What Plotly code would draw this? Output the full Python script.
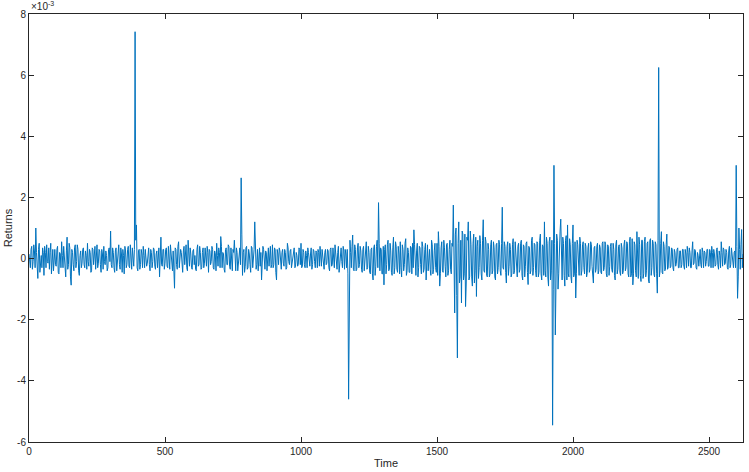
import plotly.graph_objects as go

# Returns in units of 1e-3.
# rowNN: values at t = 5*i ; midNN: values at t = 5*i + 2.5
row00 = [0.15, -0.3, 0.4, -0.1, 0.25, 1.0, -0.2, 0.3, -0.45, 0.1, 0.35, -0.55, 0.2, 0.45, -0.15, -0.35, 0.5, 0.05, -0.4, 0.3]
row01 = [-0.25, 0.4, -0.5, 0.15, 0.55, -0.3, 0.1, -0.6, 0.7, -0.2, 0.35, -0.87, 0.2, -0.4, 0.45, -0.1, 0.3, -0.55, 0.25, -0.15]
row02 = [0.35, -0.3, 0.1, 0.5, -0.25, 0.2, -0.4, 0.3, 0.05, -0.35, 0.45, -0.15, 0.25, -0.45, 0.15, 0.4, -0.2, 0.1, -0.3, 0.35]
row03 = [0.9, -0.3, 0.2, -0.45, 0.35, -0.1, 0.45, -0.35, 0.15, 0.3, -0.5, 0.25, -0.2, 0.4, -0.3, 0.1, 0.35, -0.25, 7.42, 1.1]
row04 = [-0.4, 0.3, -0.2, 0.15, 0.4, -0.3, 0.1, -0.15, 0.35, -0.4, 0.2, -0.1, 0.3, -0.35, 0.25, 0.05, -0.6, 0.7, -0.25, 0.3]
row05 = [-0.15, 0.35, -0.3, 0.1, 0.45, -0.2, 0.25, -0.97, 0.3, -0.35, 0.55, -0.1, 0.2, -0.45, 0.4, 0.05, -0.3, 0.6, -0.25, 0.15]
row06 = [-0.35, 0.3, 0.1, -0.4, 0.45, -0.2, 0.2, -0.3, 0.35, -0.15, 0.1, 0.4, -0.45, 0.25, -0.1, 0.3, -0.35, 0.15, 0.5, -0.25]
row07 = [0.2, 0.72, -0.3, 0.15, -0.45, 0.35, -0.2, 0.4, -0.35, 0.1, 0.3, 0.6, -0.4, 0.2, -0.15, 0.35, 2.64, -0.55, 0.3, -0.25]
row08 = [0.4, -0.3, 0.15, -0.45, 0.35, -0.1, 1.2, -0.35, 0.3, 0.1, -0.25, -0.7, 0.4, -0.2, 0.25, -0.4, 0.35, 0.05, -0.3, 0.45]
row09 = [-0.2, 0.3, -0.7, 0.15, 0.35, -0.3, 0.2, -0.15, 0.3, -0.35, 0.5, -0.1, 0.25, -0.3, 0.15, 0.35, -0.25, 0.1, -0.2, 0.3]
row10 = [0.5, -0.25, 0.2, -0.3, 0.1, 0.35, -0.2, 0.15, -0.35, 0.3, -0.1, 0.25, -0.3, 0.2, 0.4, -0.25, 0.1, -0.35, 0.3, -0.15]
row11 = [0.25, -0.4, 0.35, -0.2, 0.1, 0.45, -0.3, 0.2, -0.45, 0.3, -0.1, 0.4, -0.35, 0.15, 0.3, -4.6, 0.6, -0.3, 0.77, -0.4]
row12 = [0.3, -0.35, 0.5, -0.2, 0.25, -0.45, 0.4, -0.1, 0.55, -0.3, 0.2, -0.5, 0.35, -0.7, 0.45, -0.25, 0.6, 1.83, -0.4, 0.3]
row13 = [-0.5, -0.86, 0.45, -0.2, 0.6, -0.35, 0.25, -0.55, 0.7, -0.3, 0.4, -0.45, 0.15, 0.55, -0.6, 0.3, -0.2, 0.65, -0.4, 0.2]
row14 = [-0.45, 0.35, 0.5, 0.94, -0.3, 0.25, -0.6, 0.4, -0.2, 0.55, -0.45, 0.3, -0.7, 0.45, 0.1, -0.35, 0.6, -0.5, 0.25, -0.3]
row15 = [0.5, 0.88, -0.9, 0.35, -0.4, 0.6, -0.25, 0.45, -0.55, 0.3, -0.35, 0.5, 1.75, -1.78, 1.0, -3.25, 1.2, -0.6, -1.45, 0.8]
row16 = [-0.5, -1.57, 0.7, 1.2, -0.6, 0.45, -0.9, 0.8, -0.4, -1.24, 0.6, -0.3, 0.5, -0.7, 1.27, -0.45, 0.55, -0.6, 0.3, -0.5]
row17 = [0.6, -0.4, 0.35, -0.7, 0.5, -0.3, 0.45, -0.55, 1.68, -0.35, 0.4, -0.8, 0.55, -0.25, 0.3, -0.5, 0.65, -0.4, 0.2, -0.6]
row18 = [0.5, -0.35, 0.6, -0.7, 0.4, -0.25, 0.55, -0.85, 0.35, -0.4, 0.7, -0.3, 0.45, -0.6, 0.5, -0.45, 0.8, -0.7, 0.4, 1.2]
row19 = [-0.6, 0.5, -0.9, 0.7, -0.4, -5.45, 3.05, -2.5, 0.8, -1.0, 0.6, 1.29, -0.7, 0.5, -0.9, 0.75, 1.1, -0.6, 0.45, -0.8]
row20 = [1.1, -0.5, -1.29, 0.6, -0.4, 0.7, -0.55, 0.45, -0.3, 0.5, -0.6, 0.35, -0.45, 0.55, -0.25, -0.8, 0.4, -0.35, 0.5, -0.4]
row21 = [0.35, -0.5, 0.55, -0.3, 0.45, -0.6, 0.4, -0.25, 0.5, -0.45, 0.3, -0.7, 0.6, -0.35, 0.45, -0.55, 0.35, -0.4, 0.6, -0.3]
row22 = [0.5, -0.6, 0.7, -0.5, -0.86, 0.55, -0.4, 0.88, -0.65, 0.45, -0.75, 0.6, -0.5, 0.7, -0.4, 0.55, -0.8, 0.65, -0.3, 0.5]
row23 = [-0.6, 0.45, -1.13, 6.25, -0.4, 0.88, -0.5, 0.4, -0.35, 0.8, -0.3, 0.35, -0.25, 0.3, -0.4, 0.2, -0.15, 0.35, -0.3, 0.25]
row24 = [-0.2, 0.3, -0.35, 0.15, 0.4, -0.25, 0.2, -0.3, 0.55, -0.15, 0.25, -0.35, 0.1, 0.3, -0.2, 0.35, -0.3, 0.2, -0.1, 0.3]
row25 = [-0.25, 0.2, 0.4, -0.3, 0.15, -0.2, 0.35, -0.35, 0.1, 0.55, -0.25, 0.3, -0.15, 0.2, -0.35, 0.4, -0.2, 0.1, -0.3, 0.25]
tail = [3.05, -1.3, 1.0, -0.35, 0.95, 0.15]

mid00 = [-0.2, 0.3, -0.35, 0.45, -0.3, 0.2, -0.65, 0.5, 0.1, -0.3, 0.2, 0.4, -0.3, -0.1, 0.35, 0.2, -0.5, 0.3, 0.15, -0.2]
mid01 = [0.3, -0.45, 0.2, -0.3, 0.1, 0.4, -0.5, 0.25, -0.35, 0.5, -0.6, 0.3, -0.2, 0.35, -0.3, 0.45, -0.4, 0.1, -0.3, 0.3]
mid02 = [-0.2, 0.25, -0.35, -0.1, 0.3, -0.45, 0.35, -0.2, 0.4, 0.15, -0.3, 0.3, -0.2, 0.3, -0.35, -0.1, 0.25, -0.4, 0.3, -0.1]
mid03 = [-0.2, 0.35, -0.3, 0.25, -0.4, 0.3, -0.2, 0.35, -0.45, 0.1, 0.4, -0.3, 0.3, -0.25, 0.45, -0.35, -0.1, 0.3, 0.6, -0.3]
mid04 = [0.25, -0.35, 0.3, -0.3, 0.1, 0.3, -0.25, 0.35, -0.2, 0.3, -0.3, 0.35, -0.25, 0.15, -0.3, 0.35, 0.2, -0.2, 0.3, -0.35]
mid05 = [0.3, -0.25, 0.4, -0.35, 0.2, -0.4, -0.5, 0.35, -0.2, 0.4, -0.3, 0.3, -0.35, 0.25, -0.2, 0.45, -0.4, 0.2, 0.35, -0.3]
mid06 = [0.25, -0.2, -0.35, 0.3, -0.25, 0.4, -0.35, 0.2, -0.3, 0.35, -0.25, 0.2, 0.3, -0.2, 0.4, -0.3, 0.25, -0.4, 0.1, 0.35]
mid07 = [-0.3, 0.4, 0.2, -0.35, 0.3, -0.2, 0.45, -0.25, 0.35, -0.4, 0.2, -0.3, 0.35, -0.4, 0.3, -0.2, 0.8, 0.2, -0.45, 0.35]
mid08 = [-0.35, 0.3, -0.2, 0.4, -0.3, 0.3, 0.4, -0.2, -0.4, 0.35, 0.2, -0.3, 0.3, -0.35, 0.2, 0.3, -0.25, 0.4, -0.2, -0.3]
mid09 = [0.35, -0.45, 0.3, -0.2, 0.25, -0.35, 0.3, -0.25, 0.2, -0.3, 0.35, -0.2, 0.3, -0.1, 0.25, -0.3, 0.2, -0.25, 0.35, -0.2]
mid10 = [-0.3, 0.3, -0.2, 0.25, -0.3, 0.2, -0.25, 0.35, -0.2, 0.25, -0.3, 0.2, 0.3, -0.25, -0.2, 0.3, -0.3, 0.2, -0.2, 0.3]
mid11 = [-0.3, 0.3, -0.25, 0.35, -0.3, 0.2, -0.35, 0.4, -0.2, 0.35, -0.3, 0.25, 0.3, -0.3, -0.5, -0.6, 0.2, 0.4, -0.35, 0.45]
mid12 = [-0.4, 0.35, -0.3, 0.4, -0.35, 0.3, -0.4, 0.45, -0.35, 0.4, -0.45, 0.3, -0.5, 0.35, -0.55, 0.4, -0.3, 0.5, 0.35, -0.5]
mid13 = [0.4, 0.3, -0.5, 0.45, -0.4, 0.5, -0.45, 0.35, -0.5, 0.55, -0.35, 0.4, -0.5, -0.3, 0.45, -0.4, 0.5, -0.55, 0.35, -0.45]
mid14 = [0.4, -0.5, -0.3, 0.45, -0.55, 0.5, -0.3, 0.35, -0.5, 0.4, -0.35, 0.5, 0.45, -0.4, 0.3, -0.55, 0.45, -0.35, 0.5, -0.45]
mid15 = [-0.55, 0.4, -0.5, 0.55, -0.45, 0.35, -0.6, 0.5, -0.4, 0.6, -0.5, 0.4, -0.9, 0.8, -1.2, 0.5, -0.8, 0.6, 0.9, -0.7]
mid16 = [0.8, -0.8, 0.6, -0.7, 0.9, -0.6, 0.5, -0.8, 0.7, 0.4, -0.65, 0.75, -0.5, 0.6, -0.4, 0.7, -0.55, 0.5, -0.6, 0.45]
mid17 = [-0.5, 0.55, -0.6, 0.45, -0.5, 0.6, -0.4, 0.5, -0.3, 0.55, -0.45, 0.4, -0.55, 0.5, -0.6, 0.45, -0.5, 0.55, -0.45, 0.4]
mid18 = [-0.45, 0.5, -0.55, 0.45, -0.6, 0.5, -0.45, 0.4, -0.5, 0.6, -0.55, 0.5, -0.4, 0.55, -0.6, 0.6, -0.5, 0.45, -0.55, -0.4]
mid19 = [0.7, -0.6, 0.55, -0.7, 0.6, -1.0, 0.5, -0.8, 0.6, -0.5, 0.9, -0.6, 0.7, -0.55, 0.6, -0.7, -0.5, 0.65, -0.6, 0.5]
mid20 = [-0.6, 0.55, -0.5, 0.45, -0.55, 0.5, -0.4, 0.55, -0.5, 0.4, -0.45, 0.5, -0.35, 0.45, -0.5, 0.35, -0.45, 0.4, -0.5, 0.45]
mid21 = [-0.45, 0.5, -0.4, 0.55, -0.5, 0.45, -0.55, 0.4, -0.35, 0.5, -0.55, 0.45, -0.5, 0.4, -0.45, 0.5, -0.5, 0.45, -0.4, 0.55]
mid22 = [-0.5, 0.55, -0.6, 0.65, -0.5, 0.45, -0.6, -0.5, 0.7, -0.55, 0.6, -0.65, 0.55, -0.6, 0.5, -0.7, 0.6, -0.55, 0.6, -0.5]
mid23 = [0.55, -0.5, 0.6, -0.6, 0.5, -0.45, 0.55, -0.4, 0.45, -0.35, 0.4, -0.3, 0.35, -0.3, 0.3, -0.25, 0.3, -0.3, 0.25, -0.3]
mid24 = [0.3, -0.25, 0.3, -0.3, 0.2, 0.35, -0.3, 0.25, -0.2, 0.3, -0.3, 0.2, -0.25, 0.3, -0.3, 0.2, 0.25, -0.25, 0.3, -0.25]
mid25 = [0.3, -0.3, 0.2, 0.3, -0.25, 0.3, -0.2, 0.25, -0.3, 0.2, 0.35, -0.2, 0.3, -0.3, 0.25, -0.3, 0.35, -0.25, 0.2, -0.3]
midtail = [0.4, -0.6, 0.3, 0.45, -0.3]

main_rows = [row00, row01, row02, row03, row04, row05, row06, row07, row08, row09,
             row10, row11, row12, row13, row14, row15, row16, row17, row18, row19,
             row20, row21, row22, row23, row24, row25, tail]
mid_rows = [mid00, mid01, mid02, mid03, mid04, mid05, mid06, mid07, mid08, mid09,
            mid10, mid11, mid12, mid13, mid14, mid15, mid16, mid17, mid18, mid19,
            mid20, mid21, mid22, mid23, mid24, mid25, midtail]
main_vals = [v for r in main_rows for v in r]
mid_vals = [v for r in mid_rows for v in r]

returns_e3 = []
for i, v in enumerate(main_vals):
    returns_e3.append(v)
    if i < len(mid_vals):
        returns_e3.append(mid_vals[i])
half_step = 2.5
time = [i * half_step for i in range(len(returns_e3))]

x_ticks = [0, 500, 1000, 1500, 2000, 2500]
y_ticks = [-6, -4, -2, 0, 2, 4, 6, 8]

axcol = "#262626"
fam = "Liberation Sans, Arial, sans-serif"
font = dict(family=fam, size=10, color=axcol)

fig = go.Figure()
fig.add_trace(go.Scatter(x=time, y=returns_e3, mode="lines",
                         line=dict(color="#0072BD", width=1), showlegend=False))

axis_common = dict(showgrid=False, zeroline=False, showline=True, linecolor=axcol,
                   linewidth=1, mirror="allticks", ticks="inside", ticklen=5,
                   tickcolor=axcol, tickwidth=1, tickfont=font)
fig.update_xaxes(range=[0, 2625], tickvals=x_ticks, ticktext=[str(v) for v in x_ticks],
                 **axis_common)
fig.update_yaxes(range=[-6, 8], tickvals=y_ticks, ticktext=[str(v) for v in y_ticks],
                 **axis_common)

fig.update_layout(
    width=749, height=472,
    margin=dict(l=29, r=6, t=14, b=30),
    plot_bgcolor="white", paper_bgcolor="white",
    font=font,
    annotations=[
        dict(text="×10<sup>-3</sup>", xref="paper", yref="paper", x=0.0, y=1.0,
             xanchor="left", yanchor="bottom", showarrow=False,
             font=dict(family=fam, size=10, color=axcol)),
        dict(text="Returns", xref="paper", yref="paper", x=-0.029, y=0.5,
             xanchor="center", yanchor="middle", textangle=-90, showarrow=False,
             font=dict(family=fam, size=11, color=axcol)),
        dict(text="Time", xref="paper", yref="paper", x=0.5, y=-0.049,
             xanchor="center", yanchor="middle", showarrow=False,
             font=dict(family=fam, size=11, color=axcol)),
    ],
)

fig.write_html("out.html")
